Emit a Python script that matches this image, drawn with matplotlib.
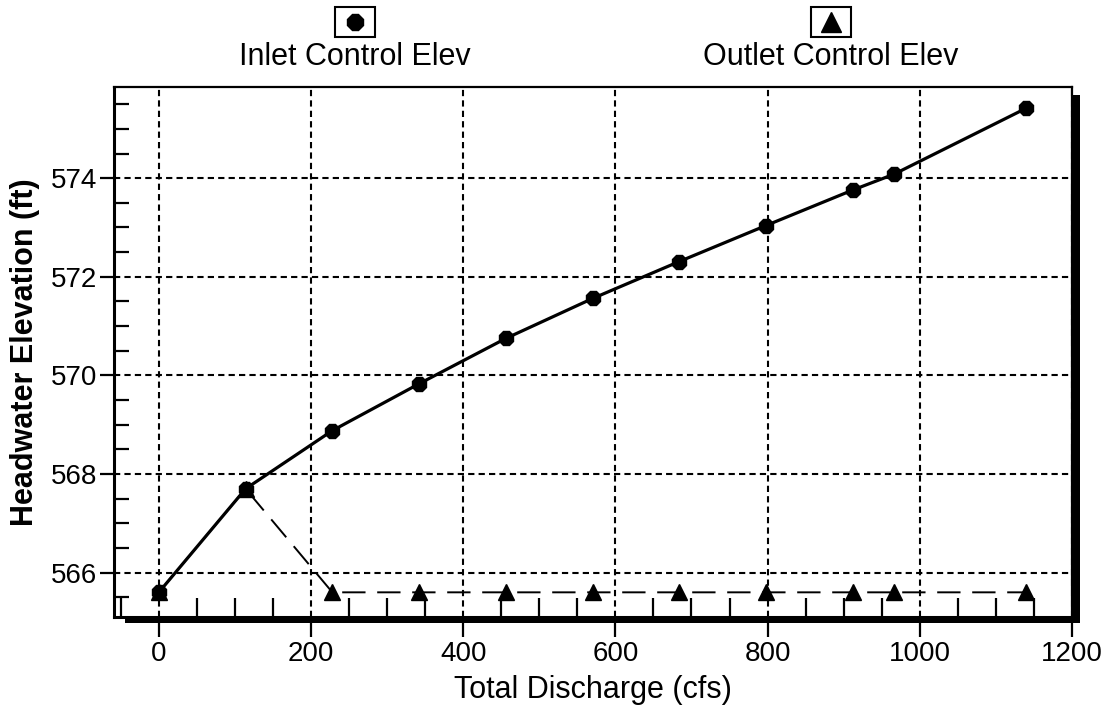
import matplotlib
matplotlib.use("Agg")
import matplotlib.pyplot as plt
from matplotlib import font_manager
from matplotlib.patches import Rectangle
from matplotlib.lines import Line2D
from matplotlib.ticker import MultipleLocator

# ---- data ----
discharge = [0, 114, 228, 342, 456, 570, 684, 798, 912, 966, 1140]
inlet_elev = [565.6, 567.7, 568.88, 569.83, 570.75, 571.56, 572.31, 573.04, 573.76, 574.08, 575.42]
outlet_elev = [565.6, 567.7, 565.6, 565.6, 565.6, 565.6, 565.6, 565.6, 565.6, 565.6, 565.6]
x_ticks = [0, 200, 400, 600, 800, 1000, 1200]
y_ticks = [566, 568, 570, 572, 574]
x_label = "Total Discharge (cfs)"
y_label = "Headwater Elevation (ft)"
series_names = ["Inlet Control Elev", "Outlet Control Elev"]

def pick(fams):
    for f in fams:
        try:
            font_manager.findfont(f, fallback_to_default=False)
            return f
        except Exception:
            pass
    return "DejaVu Sans"

FONT = pick(["Liberation Sans", "Arial"])
plt.rcParams["font.family"] = [FONT, "DejaVu Sans"]

fig = plt.figure(figsize=(11.15, 7.17), dpi=100)
ax = fig.add_axes([0.1022, 0.1395, 0.8592, 0.7392])

ax.plot(discharge, outlet_elev, color="black", lw=1.4, ls=(0, (12, 6)),
        marker="^", ms=11, mfc="black", mec="black", zorder=3)
ax.plot(discharge, inlet_elev, color="black", lw=2.3, ls="-",
        marker="8", ms=11, mfc="black", mec="black", zorder=4)

ax.set_xlim(-59, 1196)
ax.set_ylim(565.1, 575.85)
ax.set_xticks(x_ticks)
ax.set_yticks(y_ticks)
ax.xaxis.set_minor_locator(MultipleLocator(50))
ax.yaxis.set_minor_locator(MultipleLocator(0.5))

ax.tick_params(axis="both", which="major", direction="out", length=10, width=1.6,
               labelsize=20, color="black", pad=2)
ax.tick_params(axis="x", which="major", length=14.4, pad=3)
ax.tick_params(axis="x", which="minor", direction="in", length=13.5, width=1.6)
ax.tick_params(axis="y", which="minor", direction="in", length=11, width=1.6)

ax.grid(True, which="major", color="black", ls=(0, (3, 2)), lw=1.5)

for s in ["left", "bottom"]:
    ax.spines[s].set_linewidth(2.2)
for s in ["top", "right"]:
    ax.spines[s].set_linewidth(1.6)

# drop shadow of the frame
fw, fh = 958.0, 530.0
ax.add_patch(Rectangle((1.0, -6 / fh), 8 / fw, (fh - 2) / fh, transform=ax.transAxes,
                       facecolor="black", edgecolor="none", clip_on=False, zorder=5))
ax.add_patch(Rectangle((11 / fw, -6 / fh), (fw - 3) / fw, 6 / fh, transform=ax.transAxes,
                       facecolor="black", edgecolor="none", clip_on=False, zorder=5))

ax.set_xlabel(x_label, fontsize=22, labelpad=6)
ax.set_ylabel(y_label, fontsize=22, fontweight="bold", labelpad=8)

# legend: marker box above label
legend_items = [(series_names[0], "8", 0.318), (series_names[1], "^", 0.745)]
for name, mk, xc in legend_items:
    bw, bh = 40 / 1115, 30 / 717
    fig.add_artist(Rectangle((xc - bw / 2, 1 - 37 / 717), bw, bh, transform=fig.transFigure,
                             facecolor="white", edgecolor="black", lw=1.5))
    fig.add_artist(Line2D([xc], [1 - 22 / 717], transform=fig.transFigure, marker=mk,
                          ms=15 if mk == "^" else 12, color="black", mfc="black", ls="none"))
    fig.text(xc, 1 - 57 / 717, name, ha="center", va="center", fontsize=22)

fig.savefig("out.png", dpi=100)
